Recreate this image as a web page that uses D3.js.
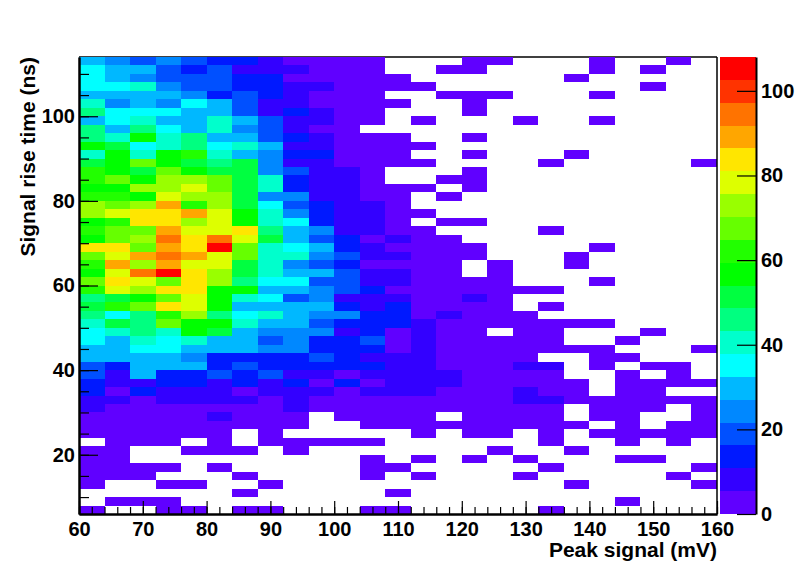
<!DOCTYPE html>
<html>
<head>
<meta charset="utf-8">
<script src="https://cdn.jsdelivr.net/npm/d3@7"></script>
<style>
  html, body { margin: 0; padding: 0; background: #fff; }
  svg { display: block; }
  text { font-family: "Liberation Sans", Arial, sans-serif; font-weight: bold; fill: #000; }
</style>
</head>
<body>
<svg id="chart"></svg>
<script>
let w = 796;
let h = 572;

// lower edge of each bin (4 mV wide, 2 ns tall), rows run from the top down
let xBins = d3.range(60, 160, 4);
let yBins = d3.range(112, 4, -2);

// bin contents, 0 = empty bin (not drawn)
let counts = [
  [30,24,19,24,19,14,14,8,3,3,3,3,0,0,0,3,3,0,0,0,3,0,0,3,0],
  [35,30,30,19,14,19,8,8,8,3,3,3,0,0,3,3,0,0,0,0,3,0,3,0,0],
  [35,30,24,19,19,19,14,14,3,3,3,3,3,0,0,0,0,0,0,3,0,0,0,0,0],
  [35,35,41,24,19,19,14,14,8,8,3,3,3,3,0,0,0,0,0,0,0,0,3,0,0],
  [30,30,30,30,24,14,19,14,8,3,3,3,0,0,3,3,3,0,0,0,3,0,0,0,0],
  [41,24,30,24,35,30,19,8,8,3,3,3,3,0,0,3,0,0,0,0,0,0,0,0,0],
  [46,35,35,35,30,30,19,8,14,8,3,3,0,0,0,3,0,0,0,0,0,0,0,0,0],
  [30,35,41,30,30,41,30,19,8,8,3,3,0,3,0,0,0,3,0,0,3,0,0,0,0],
  [46,30,46,35,30,41,24,19,8,3,3,0,0,0,0,0,0,0,0,0,0,0,0,0,0],
  [46,41,57,41,46,30,30,19,14,8,3,3,3,0,0,3,0,0,0,0,0,0,0,0,0],
  [57,51,35,41,46,35,41,30,8,8,3,3,3,3,0,0,0,0,0,0,0,0,0,0,0],
  [41,57,41,57,62,41,30,24,14,14,3,3,3,0,0,3,0,0,0,3,0,0,0,0,0],
  [51,57,68,57,51,46,51,24,8,8,3,3,3,3,0,0,0,0,3,0,0,0,0,0,3],
  [62,57,51,68,57,51,51,24,19,8,8,3,0,0,0,3,0,0,0,0,0,0,0,0,0],
  [62,68,57,73,73,68,51,41,14,8,8,3,0,0,3,3,0,0,0,0,0,0,0,0,0],
  [57,57,73,73,78,68,51,41,14,8,8,3,3,3,0,3,0,0,0,0,0,0,0,0,0],
  [62,62,57,78,73,73,51,24,24,8,8,3,3,0,3,0,0,0,0,0,0,0,0,0,0],
  [73,68,73,89,62,73,51,35,19,14,8,8,3,0,0,0,0,0,0,0,0,0,0,0,0],
  [73,78,84,84,89,78,57,41,24,14,8,8,3,3,0,0,0,0,0,0,0,0,0,0,0],
  [57,62,84,84,73,78,57,41,35,14,8,8,3,0,3,3,0,0,0,0,0,0,0,0,0],
  [62,68,68,89,78,78,84,46,30,24,8,8,3,3,0,0,0,0,3,0,0,0,0,0,0],
  [57,68,73,95,84,95,78,51,30,19,14,3,8,3,3,0,0,0,0,0,0,0,0,0,0],
  [84,84,68,89,84,105,68,41,35,30,14,8,3,3,3,3,0,0,0,0,3,0,0,0,0],
  [68,78,89,95,89,78,68,41,41,24,19,8,8,3,3,3,0,0,0,3,0,0,0,0,0],
  [62,89,73,89,78,78,51,41,24,19,14,3,3,3,3,0,3,0,0,3,0,0,0,0,0],
  [57,78,95,105,84,73,51,41,30,30,19,8,8,3,3,0,3,0,0,0,0,0,0,0,0],
  [68,84,78,68,84,73,46,35,35,19,19,8,8,3,3,3,3,0,0,0,3,0,0,0,0],
  [62,78,73,84,84,57,57,30,30,24,19,14,3,3,3,3,3,3,3,0,0,0,0,0,0],
  [46,51,57,68,78,57,41,35,19,24,8,8,8,3,3,8,3,0,0,0,0,0,0,0,0],
  [51,62,68,84,78,57,30,30,30,30,14,8,14,3,3,3,3,0,3,0,0,0,0,0,0],
  [46,35,46,62,73,46,35,41,30,24,24,14,14,3,8,3,3,3,0,0,0,0,0,0,0],
  [41,51,46,68,57,57,41,30,30,19,14,14,14,8,3,3,3,3,3,3,3,0,0,0,0],
  [35,41,46,41,57,51,30,24,24,24,8,14,3,8,3,3,0,3,3,0,0,0,3,0,0],
  [35,30,41,35,41,30,30,19,24,14,14,19,3,8,3,3,3,3,3,0,0,3,0,0,0],
  [30,30,35,35,30,30,30,24,24,14,14,14,3,8,3,3,3,3,3,3,3,0,0,0,3],
  [30,30,30,30,24,14,14,14,14,19,14,8,8,8,3,3,3,3,0,0,3,3,0,0,0],
  [19,14,30,30,30,14,19,14,14,14,14,14,8,8,3,3,3,8,8,0,3,0,3,3,0],
  [19,8,30,14,14,19,14,19,8,8,3,8,8,8,8,3,3,3,3,0,0,3,0,3,0],
  [14,8,8,14,14,8,14,8,14,3,14,3,8,8,8,3,3,3,3,3,0,3,3,3,3],
  [14,3,14,8,8,8,3,8,8,8,3,8,8,8,3,3,3,8,3,3,0,3,3,0,0],
  [8,8,3,8,8,8,8,3,8,3,3,3,3,3,3,3,3,8,8,3,3,3,3,3,3],
  [8,3,3,3,3,3,3,3,8,3,3,3,3,3,3,3,3,3,3,0,3,3,3,0,3],
  [3,3,3,3,3,8,3,3,3,0,3,3,3,3,0,3,3,3,3,0,3,3,0,0,3],
  [3,3,3,3,3,3,3,3,3,0,0,3,3,3,3,3,3,3,3,3,0,3,0,3,3],
  [3,3,3,3,3,3,0,3,0,0,0,0,0,3,0,3,3,0,3,0,3,3,3,3,3],
  [0,3,3,3,0,3,0,3,3,3,3,3,0,0,0,0,0,0,3,0,0,3,0,3,0],
  [3,3,0,0,3,3,3,0,3,0,0,0,0,0,0,0,3,0,0,3,0,0,0,0,0],
  [3,3,0,0,0,0,0,0,0,0,0,3,0,3,0,3,0,3,0,0,0,3,3,0,0],
  [3,3,3,3,0,3,0,0,0,0,0,3,3,0,0,0,0,0,3,0,0,0,0,0,3],
  [3,3,3,0,0,0,3,0,0,0,0,3,0,3,0,0,0,3,0,0,0,0,0,3,0],
  [3,0,0,3,3,0,0,3,0,0,0,0,0,0,0,0,0,0,0,3,0,0,0,0,3],
  [0,0,0,0,0,0,3,0,0,0,0,0,3,0,0,0,0,0,0,0,0,0,0,0,0],
  [0,3,3,3,0,0,0,0,0,0,0,0,0,0,0,0,0,0,0,0,0,3,0,0,0],
  [3,0,0,3,3,0,3,3,0,0,0,3,3,0,0,0,0,0,3,0,0,0,0,0,0]
];

// the 20 contour colours, low to high
let palette = ["#6000ff","#3300ff","#0019ff","#0050ff","#0088ff","#00b8ff","#00ffff","#00ffcc",
  "#00ff80","#00ff40","#00ff00","#22ff00","#66ff00","#99ff00","#ddff00","#ffe600",
  "#ffa600","#ff7300","#ff3300","#ff0000"];

let xTicks = [60,70,80,90,100,110,120,130,140,150,160];
let xMinor = d3.range(60, 161, 2);
let yTicks = [20,40,60,80,100];
let yMinor = d3.range(10, 111, 5);
let zTicks = [0,20,40,60,80,100];

let left = 79, right = 717, top_ = 57, bottom = 514;
let barLeft = 720, barRight = 756;

let svg = d3.select("#chart").attr("width", w).attr("height", h);

let xScale = d3.scaleLinear().domain([60, 160]).range([left, right]);
let yScale = d3.scaleLinear().domain([6, 114]).range([bottom, top_]);
let zScale = d3.scaleLinear().domain([0, 108]).range([bottom, top_]);
let cScale = d3.scaleQuantize().domain([0, 108]).range(palette);

// frame top goes under the cells
svg.append("line")
  .attr("x1", left).attr("x2", right).attr("y1", top_).attr("y2", top_)
  .attr("stroke", "#000").attr("stroke-width", 1.5);

// cells
let cells = [];
counts.forEach((row, r) => row.forEach((v, c) => {
  if (v > 0) cells.push({x: xBins[c], y: yBins[r], v: v});
}));

svg.append("g").attr("shape-rendering", "crispEdges")
  .selectAll("rect")
  .data(cells)
  .enter()
  .append("rect")
  .attr("x", d => Math.round(xScale(d.x)))
  .attr("y", d => Math.round(yScale(d.y + 2)))
  .attr("width", d => Math.round(xScale(d.x + 4)) - Math.round(xScale(d.x)))
  .attr("height", d => Math.round(yScale(d.y)) - Math.round(yScale(d.y + 2)))
  .attr("fill", d => cScale(d.v));

// colour bar
svg.append("g").attr("shape-rendering", "crispEdges")
  .selectAll("rect")
  .data(palette)
  .enter()
  .append("rect")
  .attr("x", barLeft)
  .attr("width", barRight - barLeft)
  .attr("y", (d, i) => Math.round(zScale((i + 1) * 108 / 20)))
  .attr("height", (d, i) => Math.round(zScale(i * 108 / 20)) - Math.round(zScale((i + 1) * 108 / 20)))
  .attr("fill", d => d);

function styleAxis(g, size) {
  g.selectAll("path").attr("stroke", "#000").attr("stroke-width", 2);
  g.selectAll("line").attr("stroke", "#000").attr("stroke-width", 1.2);
  g.selectAll("text").style("font-size", size + "px");
}

// axes, ticks point into the plot
let xAxisMinor = d3.axisBottom(xScale).tickValues(xMinor).tickSize(-7).tickSizeOuter(0).tickFormat("");
let xAxis = d3.axisBottom(xScale).tickValues(xTicks).tickSize(-13).tickSizeOuter(0).tickPadding(8);
let yAxisMinor = d3.axisLeft(yScale).tickValues(yMinor).tickSize(-10).tickSizeOuter(0).tickFormat("");
let yAxis = d3.axisLeft(yScale).tickValues(yTicks).tickSize(-19).tickSizeOuter(0).tickPadding(4);
let zAxis = d3.axisRight(zScale).tickValues(zTicks).tickSize(-19).tickSizeOuter(0).tickPadding(5);

svg.append("g").attr("transform", `translate(0,${bottom})`).call(xAxisMinor).call(styleAxis, 20);
svg.append("g").attr("transform", `translate(0,${bottom})`).call(xAxis).call(styleAxis, 20);
svg.append("g").attr("transform", `translate(${left},0)`).call(yAxisMinor).call(styleAxis, 20);
svg.append("g").attr("transform", `translate(${left},0)`).call(yAxis).call(styleAxis, 20);
svg.append("g").attr("transform", `translate(${barRight},0)`).call(zAxis).call(styleAxis, 20);

svg.append("line")
  .attr("x1", right).attr("x2", right).attr("y1", top_).attr("y2", bottom)
  .attr("stroke", "#000").attr("stroke-width", 1.5);

// titles
svg.append("text")
  .attr("x", right).attr("y", 557)
  .attr("text-anchor", "end")
  .style("font-size", "21px")
  .text("Peak signal (mV)");

svg.append("text")
  .attr("transform", "translate(35,57) rotate(-90)")
  .attr("text-anchor", "end")
  .style("font-size", "21px")
  .text("Signal rise time (ns)");
</script>
</body>
</html>
